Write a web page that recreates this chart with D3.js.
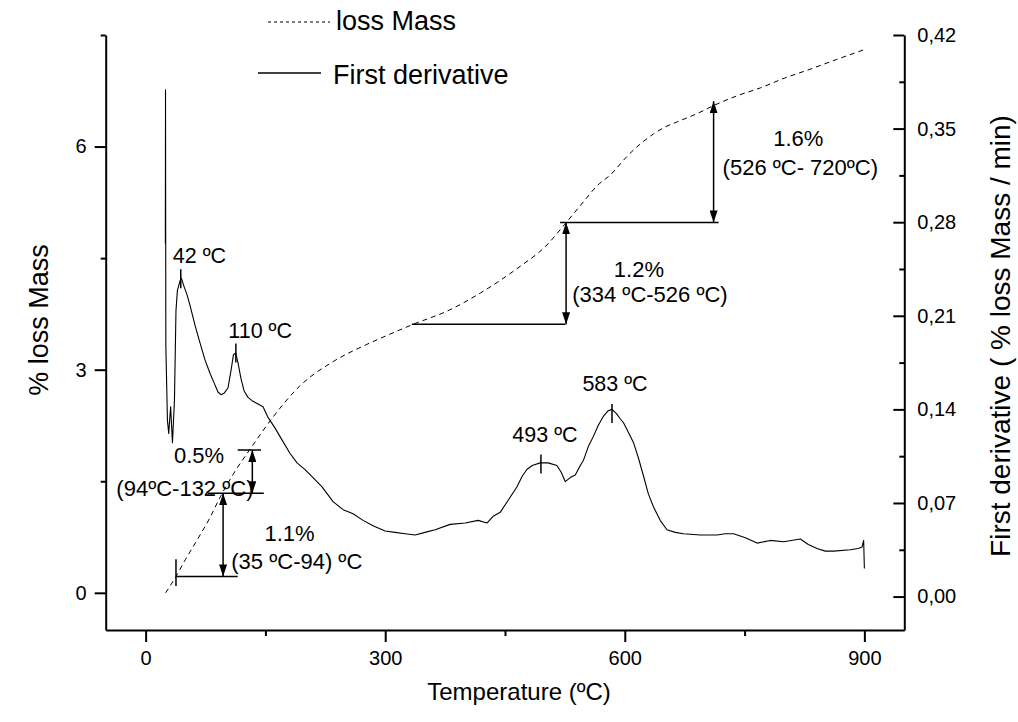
<!DOCTYPE html>
<html><head><meta charset="utf-8">
<script src="https://cdn.jsdelivr.net/npm/d3@7"></script>
<style>
body{margin:0;background:#fff;}
text{font-family:"Liberation Sans",Arial,sans-serif;fill:#000;}
</style></head>
<body><svg id="c" width="1018" height="722"></svg>
<script>
// ---------- data ----------
const xTicks = [0, 300, 600, 900];
const xMinor = [150, 450, 750];
const leftTicks = [0, 3, 6];
const leftMinor = [1.5, 4.5, 7.5];
const rightTicks = [0, 0.07, 0.14, 0.21, 0.28, 0.35, 0.42];
const rightMinor = [0.035, 0.105, 0.175, 0.245, 0.315, 0.385];

// % loss mass (left axis)
const massT = [25, 38, 50, 65, 80, 94, 110, 132, 160, 193, 235, 277, 300, 335, 380, 419, 469, 500, 526, 550, 565, 582, 603, 620, 636, 650, 665, 690, 711, 740, 770, 800, 832, 865, 899];
const massV = [0.0, 0.22, 0.45, 0.72, 1.0, 1.3, 1.6, 1.95, 2.37, 2.78, 3.11, 3.34, 3.45, 3.61, 3.8, 4.03, 4.39, 4.65, 4.97, 5.28, 5.47, 5.62, 5.87, 6.04, 6.17, 6.26, 6.33, 6.44, 6.55, 6.68, 6.79, 6.92, 7.04, 7.17, 7.30];

// first derivative (right axis)
const derivT = [24.7, 24.9, 25.3, 27.3, 28.9, 31.3, 33.6, 36.1, 38.0, 39.8, 43.0, 44.9, 48.0, 51.7, 55.5, 61.8, 68.0, 74.3, 80.6, 85.6, 90.6, 94.3, 98.1, 103.1, 106.9, 110.0, 112.8, 115.6, 119.4, 123.2, 128.2, 134.4, 140.7, 147, 153.3, 162.1, 170.9, 180.9, 189.6, 199.6, 209.6, 220.9, 234.7, 247.3, 259.8, 272.3, 284.8, 299.8, 312.3, 324.9, 337.4, 349.9, 362.5, 381.3, 400.1, 416.4, 427.3, 435.2, 444, 454, 464.9, 471.5, 477.4, 484, 494, 504, 515, 520.4, 525.4, 531.7, 538, 544.3, 548.3, 554.2, 560.8, 566.7, 573.4, 579.3, 583.9, 589.3, 594.3, 598.4, 604.3, 611, 616.9, 623.5, 629.4, 636, 644.3, 652.8, 663.2, 673.6, 694.5, 715.5, 725.8, 736.3, 751, 765.6, 782.3, 798.9, 819.8, 829.8, 840.7, 851.1, 861.5, 882.4, 892.4, 897.1, 899.1, 900];
const derivV = [0.264, 0.379, 0.188, 0.132, 0.122, 0.142, 0.115, 0.147, 0.214, 0.229, 0.236, 0.238, 0.232, 0.226, 0.218, 0.203, 0.190, 0.177, 0.167, 0.160, 0.153, 0.151, 0.152, 0.156, 0.169, 0.181, 0.182, 0.175, 0.163, 0.154, 0.149, 0.146, 0.144, 0.142, 0.134, 0.126, 0.117, 0.107, 0.100, 0.095, 0.089, 0.082, 0.071, 0.065, 0.062, 0.057, 0.053, 0.049, 0.048, 0.047, 0.046, 0.048, 0.050, 0.054, 0.055, 0.057, 0.055, 0.060, 0.063, 0.072, 0.082, 0.090, 0.095, 0.098, 0.100, 0.100, 0.098, 0.093, 0.086, 0.089, 0.091, 0.098, 0.102, 0.112, 0.120, 0.128, 0.135, 0.139, 0.140, 0.137, 0.133, 0.130, 0.123, 0.115, 0.104, 0.090, 0.077, 0.067, 0.057, 0.050, 0.048, 0.047, 0.046, 0.046, 0.047, 0.047, 0.044, 0.040, 0.042, 0.041, 0.043, 0.039, 0.036, 0.034, 0.034, 0.035, 0.036, 0.037, 0.042, 0.021];

// peak annotations (right axis)
const peakLabels = ["42 ºC", "110 ºC", "493 ºC", "583 ºC"];
const peakT = [44, 113, 495, 584];
const peakD = [0.238, 0.1825, 0.0995, 0.1373];

// mass-loss step annotations (left axis)
const stepPct = ["1.1%", "0.5%", "1.2%", "1.6%"];
const stepRange = ["(35 ºC-94) ºC", "(94ºC-132 ºC)", "(334 ºC-526 ºC)", "(526 ºC- 720ºC)"];
const stepArrowT = [97, 133.6, 526.5, 711.2];
const stepFrom = [0.22, 1.34, 3.61, 4.98];
const stepTo = [1.34, 1.92, 4.98, 6.61];
// horizontal reference lines [T0, T1, value]
const refLines = [[38, 115.3, 0.22], [78, 148, 1.34], [115.3, 144.5, 1.92], [333.3, 525.6, 3.61], [519, 717.5, 4.98]];

// ---------- layout ----------
const L = 105.7, R = 904.3, T = 35, B = 630;
const svg = d3.select("#c");
const x = d3.scaleLinear().domain([-50, 950]).range([L, R]);
const yL = d3.scaleLinear().domain([-0.5, 7.5]).range([B, T]);
const yR = d3.scaleLinear().domain([-0.025, 0.42]).range([B, T]);

function styleAxis(g, fs){
  g.selectAll("path.domain").attr("stroke", "#000").attr("stroke-width", 2);
  g.selectAll(".tick line").attr("stroke", "#000").attr("stroke-width", 2);
  g.selectAll("text").attr("font-size", fs).attr("font-family", "Liberation Sans, Arial, sans-serif").attr("fill", "#000");
}

// bottom axis
const gx = svg.append("g").attr("transform", `translate(0,${B})`)
  .call(d3.axisBottom(x).tickValues(xTicks).tickSize(12).tickSizeOuter(0).tickPadding(9));
styleAxis(gx, 20);
const gxm = svg.append("g").attr("transform", `translate(0,${B})`)
  .call(d3.axisBottom(x).tickValues(xMinor).tickSize(6).tickFormat("").tickSizeOuter(0));
styleAxis(gxm, 20); gxm.select("path.domain").remove();

// left axis
const gl = svg.append("g").attr("transform", `translate(${L},0)`)
  .call(d3.axisLeft(yL).tickValues(leftTicks).tickSize(11).tickSizeOuter(0).tickPadding(8).tickFormat(d3.format("d")));
styleAxis(gl, 20);
const glm = svg.append("g").attr("transform", `translate(${L},0)`)
  .call(d3.axisLeft(yL).tickValues(leftMinor).tickSize(5).tickFormat("").tickSizeOuter(0));
styleAxis(glm, 20); glm.select("path.domain").remove();

// right axis
const commaFmt = v => d3.format(".2f")(v).replace(".", ",");
const gr = svg.append("g").attr("transform", `translate(${R},0)`)
  .call(d3.axisRight(yR).tickValues(rightTicks).tickSize(-11).tickSizeOuter(0).tickPadding(13).tickFormat(commaFmt));
styleAxis(gr, 20);
const grm = svg.append("g").attr("transform", `translate(${R},0)`)
  .call(d3.axisRight(yR).tickValues(rightMinor).tickSize(-5).tickFormat("").tickSizeOuter(0));
styleAxis(grm, 20); grm.select("path.domain").remove();

// axis titles
svg.append("text").attr("x", (L + R) / 2 + 14).attr("y", 700).attr("text-anchor", "middle")
  .attr("font-size", 24).text("Temperature (ºC)");
svg.append("text").attr("transform", `translate(48,320) rotate(-90)`).attr("text-anchor", "middle")
  .attr("font-size", 27).text("% loss Mass");
svg.append("text").attr("transform", `translate(1010,336) rotate(-90)`).attr("text-anchor", "middle")
  .attr("font-size", 28).text("First derivative ( % loss Mass / min)");

// curves
const massData = massT.map((t, i) => [t, massV[i]]);
const derivData = derivT.map((t, i) => [t, derivV[i]]);
svg.append("path").datum(massData)
  .attr("d", d3.line().x(d => x(d[0])).y(d => yL(d[1])).curve(d3.curveMonotoneX))
  .attr("fill", "none").attr("stroke", "#000").attr("stroke-width", 1).attr("stroke-dasharray", "5,4");
svg.append("path").datum(derivData)
  .attr("d", d3.line().x(d => x(d[0])).y(d => yR(d[1])))
  .attr("fill", "none").attr("stroke", "#000").attr("stroke-width", 1.1).attr("stroke-linejoin", "round");

// peak markers & labels
const peakOff = [[-8, -15, "start"], [-7.5, -15, "start"], [4, -22, "middle"], [3, -22, "middle"]];
peakT.forEach((t, i) => {
  const px = x(t), py = yR(peakD[i]);
  svg.append("line").attr("x1", px).attr("x2", px).attr("y1", py - 9).attr("y2", py + 10)
    .attr("stroke", "#000").attr("stroke-width", 1.5);
  svg.append("text").attr("x", px + peakOff[i][0]).attr("y", py + peakOff[i][1])
    .attr("text-anchor", peakOff[i][2]).attr("font-size", 21.5).text(peakLabels[i]);
});

// arrow marker defs
const defs = svg.append("defs");
defs.append("marker").attr("id", "ah").attr("viewBox", "0 0 12 8").attr("refX", 12).attr("refY", 4)
  .attr("markerWidth", 12).attr("markerHeight", 8).attr("markerUnits", "userSpaceOnUse").attr("orient", "auto-start-reverse")
  .append("path").attr("d", "M0,0 L12,4 L0,8 Z").attr("fill", "#000");

// reference lines
refLines.forEach(r => {
  svg.append("line").attr("x1", x(r[0])).attr("x2", x(r[1])).attr("y1", yL(r[2])).attr("y2", yL(r[2]))
    .attr("stroke", "#000").attr("stroke-width", 1.5);
});
// start tick of first step
svg.append("line").attr("x1", x(38)).attr("x2", x(38)).attr("y1", yL(0.09)).attr("y2", yL(0.45))
  .attr("stroke", "#000").attr("stroke-width", 1.5);

// arrows
stepArrowT.forEach((t, i) => {
  svg.append("line").attr("x1", x(t)).attr("x2", x(t)).attr("y1", yL(stepFrom[i])).attr("y2", yL(stepTo[i]))
    .attr("stroke", "#000").attr("stroke-width", 1.5)
    .attr("marker-start", "url(#ah)").attr("marker-end", "url(#ah)");
});

// step labels: [pct center T, pct baseline value, range center T, range baseline value]
const stepPos = [[180.2, 0.703, 189.3, 0.323], [66.8, 1.748, 49.2, 1.299], [617.7, 4.25, 631.5, 3.905], [817.3, 6.004, 819.8, 5.624]];
stepPct.forEach((p, i) => {
  const s = stepPos[i];
  svg.append("text").attr("x", x(s[0])).attr("y", yL(s[1])).attr("text-anchor", "middle").attr("font-size", 22).text(p);
  svg.append("text").attr("x", x(s[2])).attr("y", yL(s[3])).attr("text-anchor", "middle").attr("font-size", 22).text(stepRange[i]);
});

// legend
svg.append("line").attr("x1", 268).attr("x2", 330).attr("y1", 22).attr("y2", 22)
  .attr("stroke", "#000").attr("stroke-width", 1).attr("stroke-dasharray", "3,3");
svg.append("text").attr("x", 336).attr("y", 30).attr("font-size", 27).text("loss Mass");
svg.append("line").attr("x1", 258).attr("x2", 321).attr("y1", 73).attr("y2", 73)
  .attr("stroke", "#000").attr("stroke-width", 1.5);
svg.append("text").attr("x", 333).attr("y", 84).attr("font-size", 27).text("First derivative");
</script></body></html>
